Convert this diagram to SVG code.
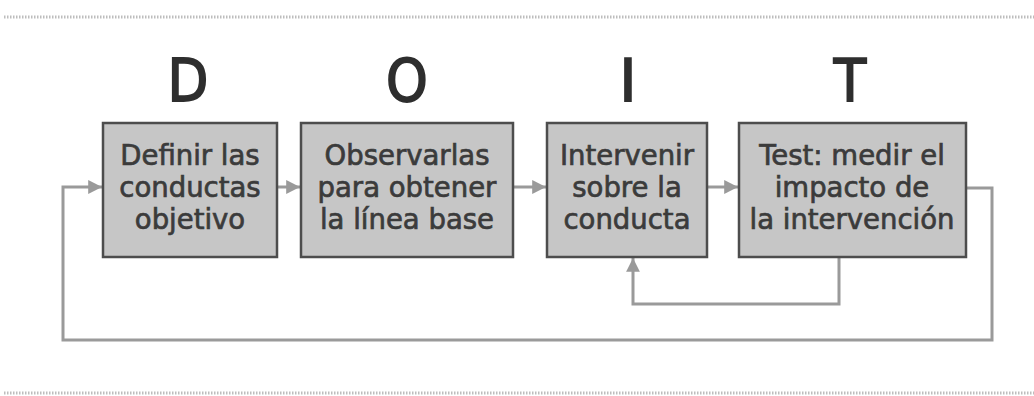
<svg xmlns="http://www.w3.org/2000/svg" width="1034" height="396" viewBox="0 0 1034 396">
<defs>
<style>
.box{fill:#c6c6c6;stroke:#4d4d4d;stroke-width:2.5}
.t{font-family:"DejaVu Sans",sans-serif;font-size:27.5px;fill:#3b3b3b;stroke:#3b3b3b;stroke-width:0.7;text-anchor:middle}
.big{font-family:"DejaVu Sans",sans-serif;font-size:59px;fill:#2e2e2e;stroke:#2e2e2e;stroke-width:1.8;text-anchor:middle}
.c{fill:none;stroke:#9a9a9a;stroke-width:3}
.dot{stroke:#bdbdbd;stroke-width:3;stroke-dasharray:1.5 1.5}
</style>
<marker id="ah" viewBox="0 0 10 10" refX="10" refY="5" markerWidth="5" markerHeight="4.6" orient="auto" markerUnits="strokeWidth">
<path d="M0,0 L10,5 L0,10 z" fill="#9a9a9a"/>
</marker>
</defs>
<rect width="1034" height="396" fill="#ffffff"/>
<line class="dot" x1="4" y1="17" x2="1034" y2="17"/>
<line class="dot" x1="4" y1="393" x2="1034" y2="393"/>
<g id="letters">
<text class="big" x="188" y="101" transform="translate(188 0) scale(0.9 1) translate(-188 0)">D</text>
<text class="big" x="407" y="101" transform="translate(407 0) scale(0.9 1) translate(-407 0)">O</text>
<text class="big" x="628" y="101">I</text>
<text class="big" x="850" y="101" transform="translate(850 0) scale(0.9 1) translate(-850 0)">T</text>
</g>
<g id="connectors">
<line class="c" x1="277" y1="187" x2="300" y2="187" marker-end="url(#ah)"/>
<line class="c" x1="513" y1="187" x2="546" y2="187" marker-end="url(#ah)"/>
<line class="c" x1="707" y1="187" x2="738" y2="187" marker-end="url(#ah)"/>
<polyline class="c" points="839,257 839,304 633,304 633,258" marker-end="url(#ah)"/>
<polyline class="c" points="966,188 992,188 992,340 63,340 63,187 102,187" marker-end="url(#ah)"/>
</g>
<g id="node1">
<rect class="box" x="103" y="123" width="174" height="134"/>
<text class="t" x="190" y="165">Definir las</text>
<text class="t" x="190" y="197">conductas</text>
<text class="t" x="190" y="229">objetivo</text>
</g>
<g id="node2">
<rect class="box" x="301" y="123" width="212" height="134"/>
<text class="t" x="407" y="165">Observarlas</text>
<text class="t" x="407" y="197">para obtener</text>
<text class="t" x="407" y="229">la línea base</text>
</g>
<g id="node3">
<rect class="box" x="547" y="123" width="160" height="134"/>
<text class="t" x="627" y="165">Intervenir</text>
<text class="t" x="627" y="197">sobre la</text>
<text class="t" x="627" y="229">conducta</text>
</g>
<g id="node4">
<rect class="box" x="739" y="123" width="227" height="134"/>
<text class="t" x="852" y="165">Test: medir el</text>
<text class="t" x="852" y="197">impacto de</text>
<text class="t" x="852" y="229">la intervención</text>
</g>
</svg>
